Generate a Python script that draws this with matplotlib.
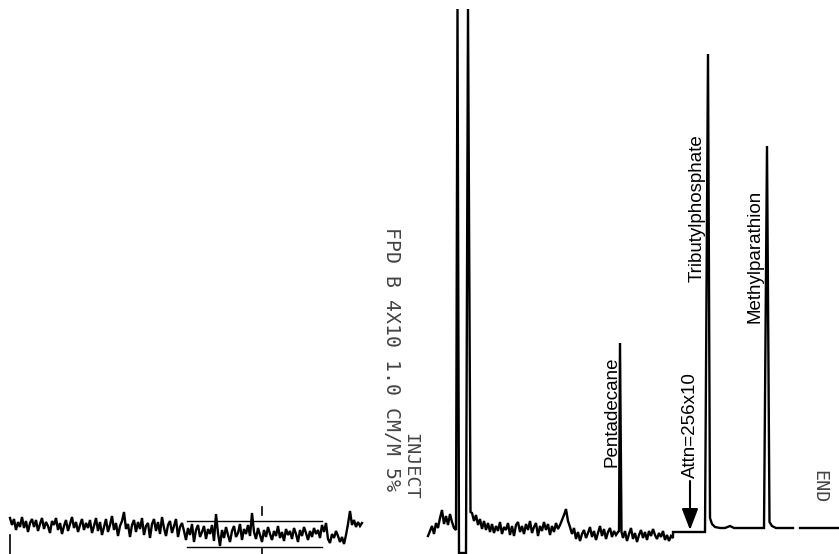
import numpy as np
import matplotlib
matplotlib.use("Agg")
import matplotlib.pyplot as plt

# ---------------- data (time in arbitrary units, detector signal in arbitrary units) ----------
# Left baseline trace (before injection), sampled uniformly
left_t0, left_dt = 1.0, 0.2
left_signal = [10, 3, 9, -2, 6, 1, 11, 0, 7, -4,
               5, 9, 1, 8, -3, 4, 10, -1, 6, 2,
               -5, 7, 3, 10, -2, 5, -6, 2, 8, -3,
               4, 11, 0, 6, -4, 3, 9, -2, 5, 0,
               8, -5, 2, 10, -3, 6, -7, 1, 9, -4,
               3, 12, -2, 5, -8, 2, 7, 16, -1, 4,
               -9, 3, 8, -4, 6, -1, 10, -7, 2, 5,
               -10, 4, 9, -3, 6, -6, 11, 0, -8, 3,
               7, -5, 2, 9, -9, 1, 5, -3, -12, 0,
               -7, 4, -14, -2, 3, -9, -4, 2, -11, -1,
               -6, 3, -13, 14, -5, -18, -2, -10, 1, -7,
               -14, -3, 2, -9, -5, 4, -12, -1, -6, 3,
               -8, 15, -4, -11, 0, -7, -14, -2, -9, 1,
               -6, -12, -3, -8, 2, -10, -4, -13, -1, -7,
               -3, -11, 0, -6, -14, -2, -8, 1, -5, -12,
               -3, -9, 0, -6, -2, -10, 3, -4, 5, -11,
               -15, -6, -10, -3, -8, -14, -9, -16, -7, 4,
               17, 3, 8, 1, 6, 2, 5]

# Right trace, part A: baseline before solvent peak
a_t0, a_dt = 42.8, 0.2
a_signal = [-8, -3, 2, -6, 5, 0, 10, 18, 4, 12, 3, 14, 6, 0, -2]

# Solvent peak (off-scale double peak with negative dip)
solvent_t = [45.75, 45.9, 46.6, 46.8, 47.05]
solvent_signal = [519, -25, -25, 519, 16]

# Right trace, part B: baseline after solvent, up to pentadecane
b_t0, b_dt = 47.2, 0.2
b_signal = [15, 7, 13, 3, 9, -1, 7, -2, 5, -4,
            4, -5, 2, -3, 6, -6, 1, -2, 5, -7,
            2, -8, 3, 6, -4, 2, -6, 4, -2, 7,
            -5, 1, 5, -8, 2, -3, 6, -2, 4, -7,
            2, -4, 5, -1, 3, 8, 13, 19, 7, 1,
            -6, 0, -11, -4, -13, -6, -2, -10, -5, 1,
            -9, -3, -12, -5, 2, -8, -1, -11, -4, 0,
            -9, -3, -7, -4]

# Pentadecane peak
penta_t = [61.9, 62.0, 62.15]
penta_signal = [-3, 185, -4]

# Right trace, part C: baseline after pentadecane, before attenuation change
c_t0, c_dt = 62.3, 0.2
c_signal = [-10, -3, -13, -6, 0, -11, -5, -14, -7, -2, -10, -4, -12, -3, -8, -1, -7, -11, -5, -9,
            -3, -12, -7, -13, -8, -10]

# After attenuation change: step, tributylphosphate, methylparathion
d_t = [67.3, 67.3, 70.5, 70.8, 71.0, 71.2, 71.5, 72.0, 72.5, 73.0, 73.4, 74.0, 75.0, 76.4,
       76.7, 76.95, 77.2, 77.6, 79.3]
d_signal = [-10, -4, -4, 474, 10, 4, 1, 0, 0, 2, 0, 0, 0, 0,
            382, 6, 2, 0, 0]

# Final flat segment
e_t = [80.0, 83.9]
e_signal = [0, 0]

# Integrator event marks
start_mark_t = 1.0
window_t = [18.7, 32.2]
window_signal = [7, -19]
center_mark_t = 26.2
attn_arrow_t = 69.0

peak_labels = ["Pentadecane", "Tributylphosphate", "Methylparathion"]
label_t = [61.2, 69.7, 75.5]
label_signal = [61, 246, 205]

header_text = "FPD B 4X10 1.0 CM/M 5%"

# ---------------- build traces ----------------
left_time = left_t0 + left_dt * np.arange(len(left_signal))
a_time = a_t0 + a_dt * np.arange(len(a_signal))
b_time = b_t0 + b_dt * np.arange(len(b_signal))
c_time = c_t0 + c_dt * np.arange(len(c_signal))

right_time = np.concatenate([a_time, solvent_t, b_time, penta_t, c_time, d_t])
right_signal = np.concatenate([a_signal, solvent_signal, b_signal, penta_signal, c_signal, d_signal])

# ---------------- draw ----------------
fig = plt.figure(figsize=(8.39, 5.54), dpi=100)
ax = fig.add_axes([0, 0, 1, 1])
ax.set_xlim(0, 83.9)
ax.set_ylim(-26, 528)
ax.axis("off")

lw = 1.7
ax.plot(left_time, left_signal, color="black", lw=lw, solid_joinstyle="miter")
ax.plot(right_time, right_signal, color="black", lw=lw, solid_joinstyle="miter")
ax.plot(e_t, e_signal, color="black", lw=lw)

# event marks
ax.plot([start_mark_t, start_mark_t], [-7, -26], color="black", lw=1.2)
ax.plot(window_t, [window_signal[0]] * 2, color="black", lw=1.0)
ax.plot(window_t, [window_signal[1]] * 2, color="black", lw=1.0)
ax.plot([center_mark_t, center_mark_t], [21, 13], color="black", lw=1.2)
ax.plot([center_mark_t, center_mark_t], [-21, -26], color="black", lw=1.2)

# attenuation arrow
ax.annotate("", xy=(attn_arrow_t, -2), xytext=(attn_arrow_t, 47),
            arrowprops=dict(arrowstyle="-|>,head_length=1.3,head_width=0.5",
                            color="black", lw=1.5, shrinkA=0, shrinkB=0))
ax.text(attn_arrow_t, 50, "Attn=256x10", rotation=90, ha="center", va="bottom",
        fontsize=13.5, family="Liberation Sans", color="black")

# peak labels
for name, t, s in zip(peak_labels, label_t, label_signal):
    ax.text(t, s, name, rotation=90, ha="center", va="bottom",
            fontsize=13.5, family="Liberation Sans", color="black")

# printer annotations
printer = dict(rotation=-90, ha="center", va="top", family="DejaVu Sans Mono",
               color="#444444")
ax.text(39.1, 301, header_text, fontsize=14.3, **printer)
ax.text(41.0, 95, "INJECT", fontsize=13.2, **printer)
ax.text(81.9, 58, "END", fontsize=13.2, **printer)

fig.savefig("out.png", dpi=100)
